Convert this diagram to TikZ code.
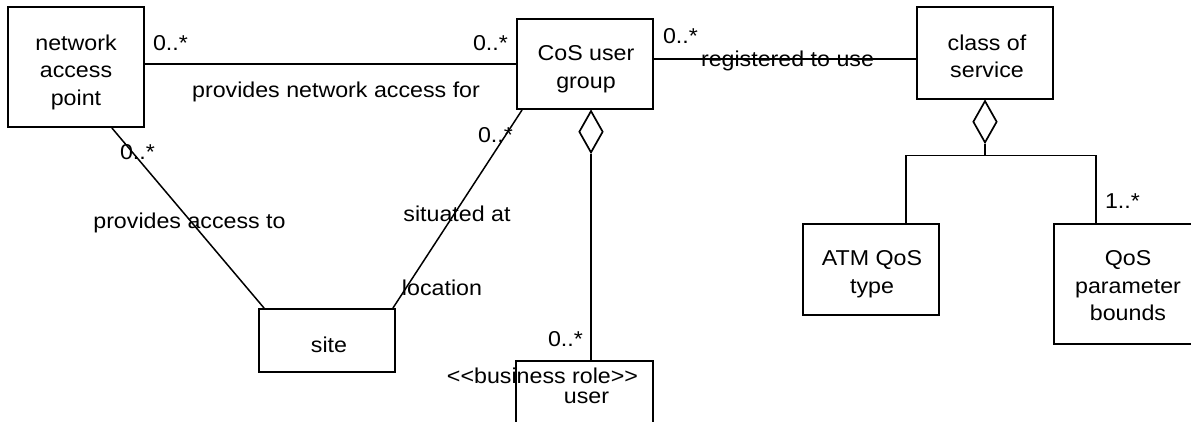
\documentclass[tikz,border=0pt]{standalone}
\usepackage{fontspec}
\setmainfont{Liberation Sans}[FakeStretch=1.08]
\usetikzlibrary{calc,shapes.geometric}
\begin{document}
\begin{tikzpicture}[x=1pt,y=-1pt,
  box/.style={draw, line width=1.8pt, inner sep=0pt},
  txt/.style={inner sep=0pt, font=\fontsize{21.5}{27.5}\selectfont},
  btxt/.style={txt, anchor=base},
  ttxt/.style={txt, anchor=north, align=center},
  link/.style={line width=1.5pt},
  agg/.style={draw, shape=diamond, line width=1.7pt, inner sep=0pt, minimum width=24pt, minimum height=42pt, fill=white}]
\useasboundingbox (0,0) rectangle (1191,421);
\clip (0,0) rectangle (1191,421);
% classes
\node[box, minimum width=136pt, minimum height=120pt] (nap) at (76,67) {};
\node[box, minimum width=136pt, minimum height=90pt] (cos) at (585,64) {};
\node[box, minimum width=136pt, minimum height=92pt] (cls) at (985,53) {};
\node[box, minimum width=136pt, minimum height=91pt] (atm) at (871,269.5) {};
\node[box, minimum width=148pt, minimum height=120pt] (qos) at (1128,284) {};
\node[box, minimum width=136pt, minimum height=63pt] (site) at (327,340.5) {};
\node[box, minimum width=137pt, minimum height=80pt] (user) at (584.5,401) {};
% class names
\node[ttxt] (napt) at (76,34.5) {network\\access\\point};
\node[ttxt] (cost) at (586,45.5) {CoS user\\group};
\node[ttxt] (clst) at (987,34.5) {class of\\service};
\node[ttxt] (atmt) at (872,250.5) {ATM QoS\\type};
\node[ttxt] (qost) at (1128,250.5) {QoS\\parameter\\bounds};
\node[btxt] (sitet) at (329,352) {site};
\node[btxt] (stereo) at (542.5,383) {<\kern0pt<business role>\kern0pt>};
\node[btxt] (usert) at (586.5,403) {user};
% aggregation diamonds
\node[agg, anchor=north] (d1) at ($(cos.south)+(6,0)$) {};
\node[agg, anchor=north] (d2) at (cls.south) {};
% connectors
\draw[link] (cos.west) -- (cos.west -| nap.east);
\coordinate (r1) at ($(cos.east)+(0,-5)$);
\draw[link] (r1) -- (r1 -| cls.west);
\draw[link] ($(nap.south west)!0.76!(nap.south east)$) -- ($(site.north west)+(6,0)$);
\draw[link] ($(cos.south west)+(6,0)$) -- ($(site.north east)+(-3,0)$);
\draw[link] (d1.south) -- (d1.south |- user.north);
\coordinate (br) at ($(d2.south)+(0,12)$);
\draw[link] (d2.south) -- (br);
\draw[link] ($(atm.north)+(35,0)$) |- (br) -| ($(qos.north)+(-32,0)$);
% association labels and multiplicities
\node[btxt] (m1) at (170.5,50) {0..*};
\node[btxt] (m2) at (490.5,50) {0..*};
\node[btxt] (a1) at (336,97) {provides network access for};
\node[btxt] (m3) at (680.5,43) {0..*};
\node[btxt] (a2) at (787.5,66) {registered to use};
\node[btxt] (m4) at (137.5,159) {0..*};
\node[btxt] (a3) at (189.5,228) {provides access to};
\node[btxt] (m5) at (495.5,142) {0..*};
\node[btxt] (a4) at (457,221) {situated at};
\node[btxt] (a5) at (442,295) {location};
\node[btxt] (m6) at (565.5,346) {0..*};
\node[btxt] (m7) at (1122.5,208) {1..*};
\end{tikzpicture}
\end{document}
